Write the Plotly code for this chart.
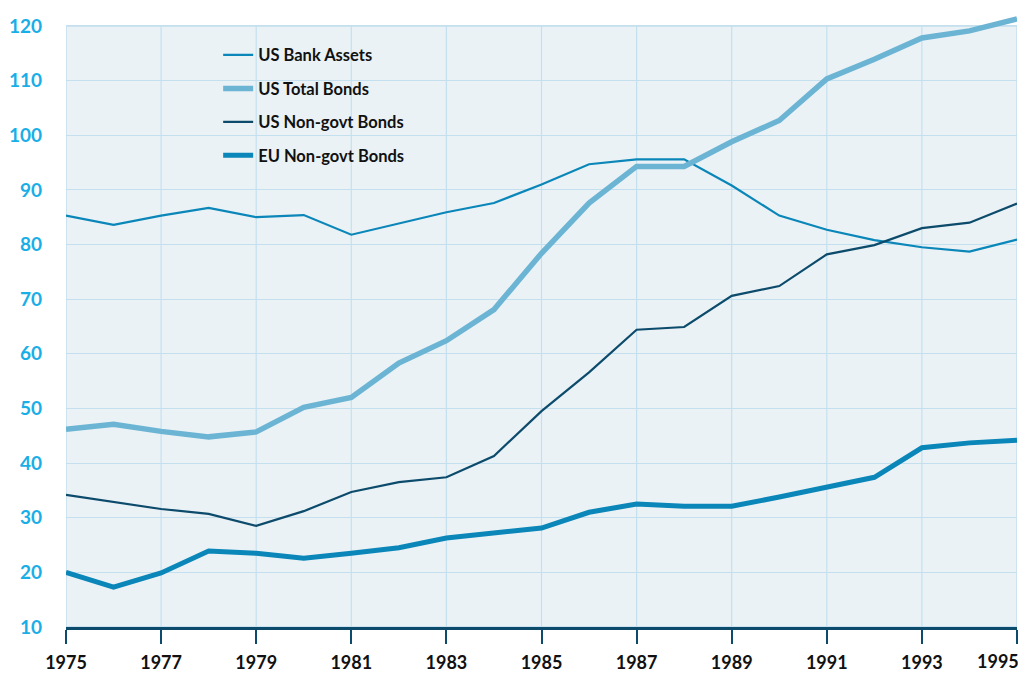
import plotly.graph_objects as go

years = list(range(1975, 1996))
us_bank_assets = [85.3, 83.6, 85.3, 86.7, 85.0, 85.4, 81.8, 83.8, 85.9, 87.6, 91.0,
                  94.7, 95.6, 95.6, 90.8, 85.3, 82.7, 80.8, 79.5, 78.7, 80.9]
us_total_bonds = [46.2, 47.1, 45.8, 44.8, 45.7, 50.2, 52.0, 58.3, 62.4, 68.1, 78.4,
                  87.6, 94.3, 94.3, 98.8, 102.7, 110.3, 113.9, 117.8, 119.1, 121.3]
us_nongovt_bonds = [34.2, 32.9, 31.6, 30.7, 28.5, 31.2, 34.7, 36.5, 37.4, 41.3, 49.5,
                    56.6, 64.4, 64.9, 70.6, 72.4, 78.2, 79.9, 83.0, 84.0, 87.5]
eu_nongovt_bonds = [20.0, 17.3, 19.9, 23.9, 23.5, 22.6, 23.5, 24.5, 26.3, 27.2, 28.1,
                    31.0, 32.5, 32.1, 32.1, 33.8, 35.6, 37.4, 42.8, 43.7, 44.2]
y_ticks = list(range(10, 121, 10))
x_ticks = list(range(1975, 1996, 2))
x_tick_labels = [str(y) for y in x_ticks]

series = [
    ("US Bank Assets", us_bank_assets, "#0a86b8", 2.2),
    ("US Total Bonds", us_total_bonds, "#6cb4d3", 5.5),
    ("US Non-govt Bonds", us_nongovt_bonds, "#0c4b6b", 2.2),
    ("EU Non-govt Bonds", eu_nongovt_bonds, "#0a86b8", 5.0),
]

GRID = "#c4e0ee"
FONT = "Lato"
fig = go.Figure()
for i, (name, vals, color, w) in enumerate(series):
    fig.add_trace(go.Scatter(x=years, y=vals, name=name, mode="lines",
                             line=dict(color=color, width=w),
                             legendgroup=f"g{i}"))

shapes = [dict(type="rect", xref="x", yref="y", x0=1975, x1=1995, y0=10, y1=120,
               fillcolor="#eaf2f6", line=dict(color=GRID, width=1.5), layer="below")]
for yr in x_ticks[1:-1]:
    shapes.append(dict(type="line", xref="x", yref="y", x0=yr, x1=yr, y0=10, y1=120,
                       line=dict(color=GRID, width=1.2), layer="below"))

# last tick label drawn shifted inward so it stays inside the page
shown_labels = x_tick_labels[:-1] + [""]
annotations = [dict(xref="x", yref="paper", x=x_ticks[-1], y=0, text=x_tick_labels[-1],
                    showarrow=False, xanchor="right", yanchor="middle",
                    xshift=4, yshift=-34,
                    font=dict(family=FONT, size=18, color="#111111", weight="bold"))]

fig.update_layout(
    width=1018, height=666,
    margin=dict(l=58, r=9, t=0, b=47, autoexpand=False),
    paper_bgcolor="white", plot_bgcolor="white",
    shapes=shapes, annotations=annotations,
    font=dict(family=FONT, size=16, color="#111111", weight="bold"),
    showlegend=True,
    legend=dict(x=0.16, y=0.952, xanchor="left", yanchor="top",
                bgcolor="rgba(0,0,0,0)", tracegroupgap=9,
                font=dict(family=FONT, size=16.5, color="#111111", weight="bold")),
    xaxis=dict(range=[1975, 1995], tickvals=x_ticks, ticktext=shown_labels,
               showgrid=False, zeroline=False, automargin=False,
               showline=True, linecolor="#0c4b6b", linewidth=3,
               ticks="outside", ticklen=14, tickwidth=2, tickcolor="#0c4b6b",
               ticklabelstandoff=3,
               tickfont=dict(family=FONT, size=18, color="#111111", weight="bold")),
    yaxis=dict(range=[10, 123.29], tickvals=y_ticks, showgrid=True, gridcolor=GRID,
               gridwidth=1.2, zeroline=False, showline=False, ticks="",
               automargin=False, ticklabelstandoff=23,
               tickfont=dict(family=FONT, size=19, color="#1aaee6", weight="bold")),
)

fig.write_html("out.html")
